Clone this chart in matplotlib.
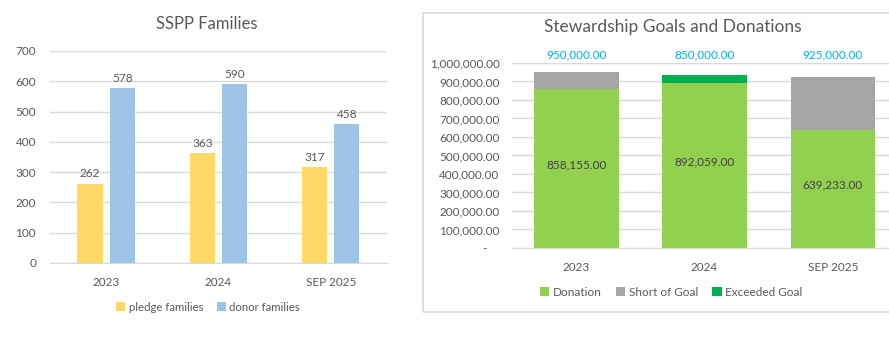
import matplotlib
matplotlib.use("Agg")
import matplotlib.pyplot as plt
from matplotlib.patches import Rectangle

plt.rcParams['font.family'] = ['Lato', 'DejaVu Sans']

# data
years = ['2023', '2024', 'SEP 2025']
pledge_families = [262, 363, 317]
donor_families = [578, 590, 458]

goals = [950000.00, 850000.00, 925000.00]
donations = [858155.00, 892059.00, 639233.00]

short_of_goal = [max(g - d, 0) for g, d in zip(goals, donations)]
exceeded_goal = [max(d - g, 0) for g, d in zip(goals, donations)]

TXT = '#595959'
GRID = '#D9D9D9'

fig = plt.figure(figsize=(8.89, 3.42), dpi=100)

# ---- left chart: SSPP Families ----
ax1 = fig.add_axes([0.0562, 0.231, 0.379, 0.620])
x = range(len(years))
w = 0.225
off = 0.143
b1 = ax1.bar([i - off for i in x], pledge_families, w, color='#FFD966', label='pledge families', zorder=2)
b2 = ax1.bar([i + off for i in x], donor_families, w, color='#9DC3E6', label='donor families', zorder=2)
ax1.bar_label(b1, padding=3, color=TXT, fontsize=8.5)
ax1.bar_label(b2, padding=3, color=TXT, fontsize=8.5)
ax1.set_ylim(0, 700)
ax1.set_xlim(-0.5, 2.5)
ax1.set_yticks(range(0, 701, 100))
ax1.set_xticks(list(x))
ax1.set_xticklabels(years)
ax1.grid(axis='y', color=GRID, linewidth=1, zorder=0)
for s in ['top', 'right', 'left']:
    ax1.spines[s].set_visible(False)
ax1.spines['bottom'].set_color(GRID)
ax1.tick_params(length=0, colors=TXT, labelsize=8.5)
ax1.tick_params(axis='y', pad=10)
ax1.tick_params(axis='x', pad=10)
fig.text(0.233, 0.93, 'SSPP Families', ha='center', va='center', fontsize=12, color=TXT)
fig.legend(handles=[b1, b2], loc='center', bbox_to_anchor=(0.234, 0.102), ncol=2, frameon=False,
           fontsize=8.2, labelcolor=TXT, handlelength=0.8, handleheight=0.8, handletextpad=0.3,
           columnspacing=1.2)

# ---- right chart: Stewardship Goals and Donations ----
fig.add_artist(Rectangle((423 / 889, 1 - 312 / 342), 0.6, (312 - 13) / 342,
                         transform=fig.transFigure, fill=False, edgecolor=GRID, linewidth=1.2))
ax2 = fig.add_axes([0.576, 0.275, 0.433, 0.541])
bw = 0.66
d = ax2.bar(x, donations, bw, color='#92D050', label='Donation', zorder=2)
s = ax2.bar(x, short_of_goal, bw, bottom=donations, color='#A5A5A5', label='Short of Goal', zorder=2)
e = ax2.bar(x, exceeded_goal, bw, bottom=goals, color='#00B050', label='Exceeded Goal', zorder=2)
# exceeded part sits on top of the donation bar
for rect, don, ex in zip(e, donations, exceeded_goal):
    rect.set_y(don)
    rect.set_height(ex)
for i, don in enumerate(donations):
    ax2.text(i, don / 2 + 20000, f'{don:,.2f}', ha='center', va='center', fontsize=8.5, color='#404040')
for i, g in enumerate(goals):
    ax2.text(i, 1045000, f'{g:,.2f}', ha='center', va='center', fontsize=8.5, color='#00B0F0', clip_on=False)
ax2.set_ylim(0, 1000000)
ax2.set_xlim(-0.5, 2.5)
yt = list(range(0, 1000001, 100000))
ax2.set_yticks(yt)
ax2.set_yticklabels(['-    '] + [f'{v:,.2f}' for v in yt[1:]])
ax2.set_xticks(list(x))
ax2.set_xticklabels(years)
ax2.grid(axis='y', color=GRID, linewidth=1, zorder=0)
for sp in ['top', 'right', 'left']:
    ax2.spines[sp].set_visible(False)
ax2.spines['bottom'].set_color(GRID)
ax2.tick_params(length=0, colors=TXT, labelsize=8.5)
ax2.tick_params(axis='y', pad=9)
ax2.tick_params(axis='x', pad=10)
fig.text(0.757, 0.921, 'Stewardship Goals and Donations', ha='center', va='center', fontsize=12.5, color=TXT)
fig.legend(handles=[d, s, e], loc='center', bbox_to_anchor=(0.755, 0.146), ncol=3, frameon=False,
           fontsize=8.5, labelcolor=TXT, handlelength=0.8, handleheight=0.8, handletextpad=0.3,
           columnspacing=1.2)

fig.savefig('out.png', dpi=100)
